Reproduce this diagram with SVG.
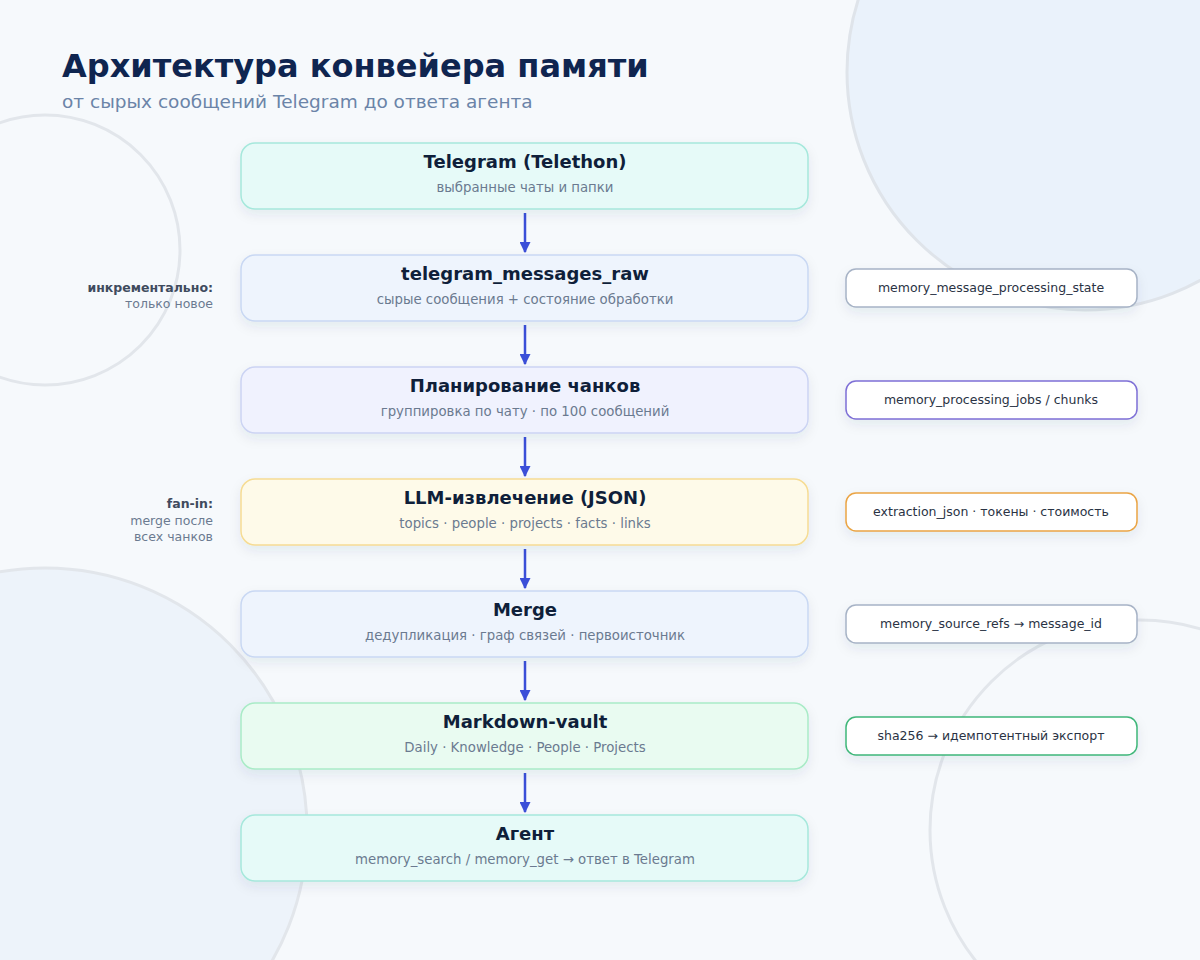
<svg xmlns="http://www.w3.org/2000/svg" width="1200" height="960" viewBox="0 0 1200 960">
<style>
text{font-family:"DejaVu Sans","Noto Sans",sans-serif}
.t{font-size:18px;font-weight:bold;fill:#0f1f3a;text-anchor:middle}
.s{font-size:13.3px;fill:#6b7a90;text-anchor:middle}
.side{font-size:12.5px;fill:#2a3344;text-anchor:middle}
.nb{stroke-width:1.5}
.sb{fill:#fff;stroke-width:1.5}
.conn{stroke:#3b4fd8;stroke-width:2.5;fill:none}
.lab{font-size:12.5px;text-anchor:end}
</style>
<defs>
<marker id="ah" viewBox="0 0 10 10" refX="9" refY="5" markerWidth="11" markerHeight="11" orient="auto" markerUnits="userSpaceOnUse"><path d="M0,0L10,5L0,10Z" fill="#3b4fd8"/></marker>
<filter id="sh" x="-10%" y="-30%" width="120%" height="170%"><feDropShadow dx="0" dy="5" stdDeviation="6" flood-color="#1e3a5f" flood-opacity="0.08"/></filter>
</defs>
<rect width="1200" height="960" fill="#f6f9fc"/>
<circle cx="1085" cy="72" r="238" fill="#eaf2fb" stroke="#dfe4ea" stroke-width="3"/>
<circle cx="45" cy="250" r="135" fill="none" stroke="#e2e6eb" stroke-width="3"/>
<circle cx="45" cy="830" r="262" fill="#edf3fa" stroke="#e2e6eb" stroke-width="3"/>
<circle cx="1140" cy="830" r="210" fill="none" stroke="#e2e6eb" stroke-width="3"/>
<text x="62" y="77" style="font-size:32px;font-weight:bold;fill:#0f2550">Архитектура конвейера памяти</text>
<text x="62" y="108" style="font-size:18.5px;fill:#6b84a8">от сырых сообщений Telegram до ответа агента</text>

<text class="lab" x="213" y="292" style="font-weight:bold;fill:#3f4b5e">инкрементально:</text>
<text class="lab" x="213" y="308" style="fill:#6b7a90">только новое</text>
<text class="lab" x="213" y="508" style="font-weight:bold;fill:#3f4b5e">fan-in:</text>
<text class="lab" x="213" y="525" style="fill:#6b7a90">merge после</text>
<text class="lab" x="213" y="541" style="fill:#6b7a90">всех чанков</text>

<g id="connectors">
<line class="conn" x1="525" y1="213" x2="525" y2="252" marker-end="url(#ah)"/>
<line class="conn" x1="525" y1="325" x2="525" y2="364" marker-end="url(#ah)"/>
<line class="conn" x1="525" y1="437" x2="525" y2="476" marker-end="url(#ah)"/>
<line class="conn" x1="525" y1="549" x2="525" y2="588" marker-end="url(#ah)"/>
<line class="conn" x1="525" y1="661" x2="525" y2="700" marker-end="url(#ah)"/>
<line class="conn" x1="525" y1="773" x2="525" y2="812" marker-end="url(#ah)"/>
</g>

<g id="n1"><rect class="nb" x="241" y="143" width="567" height="66" rx="14" fill="#e6faf8" stroke="#a6e8dc" filter="url(#sh)"/><text class="t" x="525" y="168">Telegram (Telethon)</text><text class="s" x="525" y="192">выбранные чаты и папки</text></g>
<g id="n2"><rect class="nb" x="241" y="255" width="567" height="66" rx="14" fill="#eef4fd" stroke="#c9d8f3" filter="url(#sh)"/><text class="t" x="525" y="280">telegram_messages_raw</text><text class="s" x="525" y="304">сырые сообщения + состояние обработки</text></g>
<g id="n3"><rect class="nb" x="241" y="367" width="567" height="66" rx="14" fill="#f0f2fe" stroke="#ccd4f3" filter="url(#sh)"/><text class="t" x="525" y="392">Планирование чанков</text><text class="s" x="525" y="416">группировка по чату · по 100 сообщений</text></g>
<g id="n4"><rect class="nb" x="241" y="479" width="567" height="66" rx="14" fill="#fefae9" stroke="#f6dc94" filter="url(#sh)"/><text class="t" x="525" y="504">LLM-извлечение (JSON)</text><text class="s" x="525" y="528">topics · people · projects · facts · links</text></g>
<g id="n5"><rect class="nb" x="241" y="591" width="567" height="66" rx="14" fill="#eef4fd" stroke="#c9d8f3" filter="url(#sh)"/><text class="t" x="525" y="616">Merge</text><text class="s" x="525" y="640">дедупликация · граф связей · первоисточник</text></g>
<g id="n6"><rect class="nb" x="241" y="703" width="567" height="66" rx="14" fill="#e9fbf1" stroke="#a9ebc7" filter="url(#sh)"/><text class="t" x="525" y="728">Markdown-vault</text><text class="s" x="525" y="752">Daily · Knowledge · People · Projects</text></g>
<g id="n7"><rect class="nb" x="241" y="815" width="567" height="66" rx="14" fill="#e6faf8" stroke="#a6e8dc" filter="url(#sh)"/><text class="t" x="525" y="840">Агент</text><text class="s" x="525" y="864">memory_search / memory_get → ответ в Telegram</text></g>

<g id="s1"><rect class="sb" x="846" y="269" width="291" height="38" rx="10" stroke="#a7b3c6" filter="url(#sh)"/><text class="side" x="991" y="292">memory_message_processing_state</text></g>
<g id="s2"><rect class="sb" x="846" y="381" width="291" height="38" rx="10" stroke="#7e6fd6" filter="url(#sh)"/><text class="side" x="991" y="404">memory_processing_jobs / chunks</text></g>
<g id="s3"><rect class="sb" x="846" y="493" width="291" height="38" rx="10" stroke="#eaa444" filter="url(#sh)"/><text class="side" x="991" y="516">extraction_json · токены · стоимость</text></g>
<g id="s4"><rect class="sb" x="846" y="605" width="291" height="38" rx="10" stroke="#a7b3c6" filter="url(#sh)"/><text class="side" x="991" y="628">memory_source_refs → message_id</text></g>
<g id="s5"><rect class="sb" x="846" y="717" width="291" height="38" rx="10" stroke="#3fb77a" filter="url(#sh)"/><text class="side" x="991" y="740">sha256 → идемпотентный экспорт</text></g>
</svg>
